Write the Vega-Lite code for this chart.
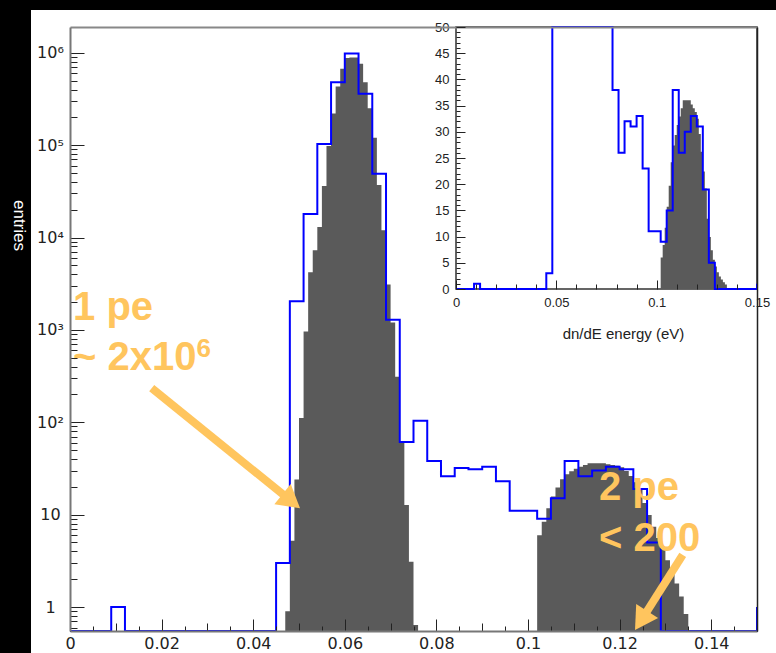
{
  "$schema": "https://vega.github.io/schema/vega-lite/v6.json",
  "width": 745,
  "height": 643,
  "autosize": "none",
  "padding": {"left": 31, "top": 10, "right": 0, "bottom": 0},
  "background": "#000000",
  "config": {
    "view": {"fill": "#ffffff", "stroke": null},
    "axis": {"grid": false, "labelColor": "#222222", "tickColor": "#222222", "domainColor": "#666666", "labelFont": "DejaVu Sans", "titleFont": "Liberation Sans", "labelFlush": false, "labelOverlap": false}
  },
  "datasets": {
    "blue": [
      {"e": 0, "n": 0}, {"e": 0.009, "n": 1}, {"e": 0.012, "n": 0}, {"e": 0.045, "n": 3},
      {"e": 0.048, "n": 2040}, {"e": 0.051, "n": 18000}, {"e": 0.054, "n": 103000}, {"e": 0.057, "n": 480000},
      {"e": 0.06, "n": 980000}, {"e": 0.063, "n": 360000}, {"e": 0.066, "n": 49000}, {"e": 0.069, "n": 1290},
      {"e": 0.072, "n": 61}, {"e": 0.075, "n": 104}, {"e": 0.078, "n": 38}, {"e": 0.081, "n": 26},
      {"e": 0.084, "n": 32}, {"e": 0.087, "n": 31}, {"e": 0.09, "n": 33}, {"e": 0.093, "n": 23},
      {"e": 0.096, "n": 11}, {"e": 0.099, "n": 11}, {"e": 0.102, "n": 9}, {"e": 0.105, "n": 15},
      {"e": 0.108, "n": 38}, {"e": 0.111, "n": 26}, {"e": 0.114, "n": 30}, {"e": 0.117, "n": 33},
      {"e": 0.12, "n": 31}, {"e": 0.123, "n": 19}, {"e": 0.126, "n": 5}, {"e": 0.129, "n": 0},
      {"e": 0.15, "n": 1}
    ],
    "pe1": [
      {"e": 0.047, "n": 0.9}, {"e": 0.048, "n": 5.2}, {"e": 0.049, "n": 24}, {"e": 0.05, "n": 111},
      {"e": 0.051, "n": 960}, {"e": 0.052, "n": 4200}, {"e": 0.053, "n": 7300}, {"e": 0.054, "n": 13000},
      {"e": 0.055, "n": 36000}, {"e": 0.056, "n": 98000}, {"e": 0.057, "n": 220000}, {"e": 0.058, "n": 430000},
      {"e": 0.059, "n": 670000}, {"e": 0.06, "n": 880000}, {"e": 0.061, "n": 890000}, {"e": 0.062, "n": 890000},
      {"e": 0.063, "n": 760000}, {"e": 0.064, "n": 480000}, {"e": 0.065, "n": 250000}, {"e": 0.066, "n": 120000},
      {"e": 0.067, "n": 37000}, {"e": 0.068, "n": 12000}, {"e": 0.069, "n": 3100}, {"e": 0.07, "n": 1200},
      {"e": 0.071, "n": 310}, {"e": 0.072, "n": 61}, {"e": 0.073, "n": 12.7}, {"e": 0.074, "n": 3.1},
      {"e": 0.075, "n": 0.64}, {"e": 0.076, "n": 0}
    ],
    "pe2": [
      {"e": 0.102, "n": 6}, {"e": 0.103, "n": 8.4}, {"e": 0.104, "n": 11.7}, {"e": 0.105, "n": 15.7},
      {"e": 0.106, "n": 19.7}, {"e": 0.107, "n": 24.2}, {"e": 0.108, "n": 27.4}, {"e": 0.109, "n": 29.4},
      {"e": 0.11, "n": 31.3}, {"e": 0.111, "n": 32.9}, {"e": 0.112, "n": 34.5}, {"e": 0.113, "n": 36},
      {"e": 0.114, "n": 36}, {"e": 0.115, "n": 36}, {"e": 0.116, "n": 36}, {"e": 0.117, "n": 35.2},
      {"e": 0.118, "n": 34.5}, {"e": 0.119, "n": 33.8}, {"e": 0.12, "n": 32.5}, {"e": 0.121, "n": 29.6},
      {"e": 0.122, "n": 26.2}, {"e": 0.123, "n": 22.4}, {"e": 0.124, "n": 19.2}, {"e": 0.125, "n": 13.4},
      {"e": 0.126, "n": 9.9}, {"e": 0.127, "n": 7.4}, {"e": 0.128, "n": 5.6}, {"e": 0.129, "n": 4.3},
      {"e": 0.13, "n": 3.2}, {"e": 0.131, "n": 2.4}, {"e": 0.132, "n": 1.8}, {"e": 0.133, "n": 1.3},
      {"e": 0.134, "n": 0.84}, {"e": 0.135, "n": 0}
    ]
  },
  "layer": [
    {
      "layer": [
        {
          "data": {"name": "pe1"},
          "mark": {"type": "area", "interpolate": "step-after", "color": "#5a5a5a"},
          "encoding": {
            "x": {"field": "e", "type": "quantitative", "scale": {"domain": [0, 0.15], "range": [39, 726], "nice": false, "zero": false},
              "axis": {"orient": "bottom", "offset": -22, "values": [0, 0.02, 0.04, 0.06, 0.08, 0.1, 0.12, 0.14], "format": ".3~g", "ticks": false, "domain": false, "labelFontSize": 16, "labelPadding": 4, "title": null, "zindex": 1}},
            "y": {"field": "n", "type": "quantitative", "scale": {"type": "log", "domain": [0.55, 1900000], "range": [621, 17], "clamp": true, "nice": false},
              "axis": {"orient": "left", "offset": -39, "values": [1, 10, 100, 1000, 10000, 100000, 1000000], "ticks": false, "domain": false,
                "labelExpr": "datum.value < 5 ? '1' : datum.value < 50 ? '10' : datum.value < 500 ? '10²' : datum.value < 5000 ? '10³' : datum.value < 50000 ? '10⁴' : datum.value < 500000 ? '10⁵' : '10⁶'",
                "labelAlign": "center", "labelBaseline": "middle", "labelPadding": 20, "labelFontSize": 16,
                "title": "entries", "titleColor": "#ffffff", "titleFontSize": 17, "titleFontWeight": "normal", "titleAngle": 90, "titleX": -52, "titleY": 215, "titleAlign": "center", "titleBaseline": "middle", "zindex": 1}},
            "y2": {"datum": 0.55}
          }
        },
        {
          "data": {"name": "pe2"},
          "mark": {"type": "area", "interpolate": "step-after", "color": "#5a5a5a"},
          "encoding": {
            "x": {"field": "e", "type": "quantitative",
              "axis": {"orient": "top", "offset": -17, "labels": false, "ticks": false, "domain": true, "domainColor": "#888888", "domainWidth": 2, "title": null, "zindex": 1}},
            "y": {"field": "n", "type": "quantitative",
              "axis": {"orient": "right", "offset": -19, "labels": false, "ticks": false, "domain": true, "domainColor": "#222222", "domainWidth": 1.5, "title": null, "zindex": 1}},
            "y2": {"datum": 0.55}
          }
        },
        {
          "data": {"name": "blue"},
          "mark": {"type": "line", "interpolate": "step-after", "color": "#0000ff", "strokeWidth": 2},
          "encoding": {
            "x": {"field": "e", "type": "quantitative",
              "axis": {"orient": "top", "offset": -621, "values": [0, 0.005, 0.01, 0.015, 0.02, 0.025, 0.03, 0.035, 0.04, 0.045, 0.05, 0.055, 0.06, 0.065, 0.07, 0.075, 0.08, 0.085, 0.09, 0.095, 0.1, 0.105, 0.11, 0.115, 0.12, 0.125, 0.13, 0.135, 0.14, 0.145, 0.15],
                "labels": false, "domain": true, "domainWidth": 2, "domainColor": "#777777",
                "tickSize": {"condition": [{"test": "abs(datum.value*50 - round(datum.value*50)) < 0.01", "value": 12}, {"test": "abs(datum.value*100 - round(datum.value*100)) < 0.01", "value": 8}], "value": 5},
                "title": null, "zindex": 1}},
            "y": {"field": "n", "type": "quantitative",
              "axis": {"orient": "right", "offset": -706, "values": [0.6, 0.7, 0.8, 0.9, 1, 2, 3, 4, 5, 6, 7, 8, 9, 10, 20, 30, 40, 50, 60, 70, 80, 90, 100, 200, 300, 400, 500, 600, 700, 800, 900, 1000, 2000, 3000, 4000, 5000, 6000, 7000, 8000, 9000, 10000, 20000, 30000, 40000, 50000, 60000, 70000, 80000, 90000, 100000, 200000, 300000, 400000, 500000, 600000, 700000, 800000, 900000, 1000000],
                "labels": false, "domain": true, "domainWidth": 2, "domainColor": "#777777",
                "tickSize": {"condition": {"test": "abs(log(datum.value)/LN10 - round(log(datum.value)/LN10)) < 0.001", "value": 14}, "value": 7},
                "title": null, "zindex": 1}}
          }
        },
        {
          "data": {"values": [{}]},
          "mark": {"type": "rule", "color": "#ffc55e", "strokeWidth": 8},
          "encoding": {
            "x": {"datum": 0.01784, "type": "quantitative", "axis": null}, "x2": {"datum": 0.04832},
            "y": {"datum": 234, "type": "quantitative", "axis": null}, "y2": {"datum": 14}
          }
        },
        {
          "data": {"values": [{}]},
          "mark": {"type": "point", "shape": "triangle-up", "filled": true, "size": 676, "angle": 129, "color": "#ffc55e", "opacity": 1},
          "encoding": {
            "x": {"datum": 0.04832, "type": "quantitative", "axis": null},
            "y": {"datum": 14, "type": "quantitative", "axis": null}
          }
        },
        {
          "data": {"values": [{}]},
          "mark": {"type": "rule", "color": "#ffc55e", "strokeWidth": 8},
          "encoding": {
            "x": {"datum": 0.13378, "type": "quantitative", "axis": null}, "x2": {"datum": 0.12469},
            "y": {"datum": 3.66, "type": "quantitative", "axis": null}, "y2": {"datum": 0.714}
          }
        },
        {
          "data": {"values": [{}]},
          "mark": {"type": "point", "shape": "triangle-up", "filled": true, "size": 676, "angle": 212.6, "color": "#ffc55e", "opacity": 1},
          "encoding": {
            "x": {"datum": 0.12469, "type": "quantitative", "axis": null},
            "y": {"datum": 0.714, "type": "quantitative", "axis": null}
          }
        },
        {
          "data": {"values": [{}]},
          "mark": {"type": "text", "text": "1 pe", "align": "left", "baseline": "alphabetic", "font": "Liberation Sans", "fontSize": 40, "fontWeight": "bold", "color": "#ffc55e"},
          "encoding": {
            "x": {"datum": 0.00066, "type": "quantitative", "axis": null},
            "y": {"datum": 1279, "type": "quantitative", "axis": null}
          }
        },
        {
          "data": {"values": [{}]},
          "mark": {"type": "text", "text": "~ 2x10", "align": "left", "baseline": "alphabetic", "font": "Liberation Sans", "fontSize": 40, "fontWeight": "bold", "color": "#ffc55e"},
          "encoding": {
            "x": {"datum": 0.00066, "type": "quantitative", "axis": null},
            "y": {"datum": 368, "type": "quantitative", "axis": null}
          }
        },
        {
          "data": {"values": [{}]},
          "mark": {"type": "text", "text": "6", "align": "left", "baseline": "alphabetic", "font": "Liberation Sans", "fontSize": 26, "fontWeight": "bold", "color": "#ffc55e"},
          "encoding": {
            "x": {"datum": 0.0276, "type": "quantitative", "axis": null},
            "y": {"datum": 512, "type": "quantitative", "axis": null}
          }
        },
        {
          "data": {"values": [{}]},
          "mark": {"type": "text", "text": "2 pe", "align": "left", "baseline": "alphabetic", "font": "Liberation Sans", "fontSize": 40, "fontWeight": "bold", "color": "#ffc55e"},
          "encoding": {
            "x": {"datum": 0.1155, "type": "quantitative", "axis": null},
            "y": {"datum": 14.4, "type": "quantitative", "axis": null}
          }
        },
        {
          "data": {"values": [{}]},
          "mark": {"type": "text", "text": "< 200", "align": "left", "baseline": "alphabetic", "font": "Liberation Sans", "fontSize": 40, "fontWeight": "bold", "color": "#ffc55e"},
          "encoding": {
            "x": {"datum": 0.1155, "type": "quantitative", "axis": null},
            "y": {"datum": 4.07, "type": "quantitative", "axis": null}
          }
        }
      ],
      "resolve": {"axis": {"x": "independent", "y": "independent"}}
    },
    {
      "layer": [
        {
          "data": {"values": [{}]},
          "mark": {"type": "rect", "fill": "#ffffff", "stroke": "#333333", "strokeWidth": 1.5},
          "encoding": {
            "x": {"datum": 0, "type": "quantitative", "scale": {"domain": [0, 0.15], "range": [425, 726], "nice": false, "zero": false},
              "axis": {"orient": "bottom", "offset": -364, "values": [0, 0.05, 0.1, 0.15], "format": ".3~g", "ticks": false, "domain": false, "labelFont": "Liberation Sans", "labelFontSize": 13, "labelPadding": 7,
                "title": "dn/dE energy (eV)", "titleFont": "Liberation Sans", "titleFontSize": 15, "titleFontWeight": "normal", "titleColor": "#222222", "titleX": 592, "titleY": 44, "titleBaseline": "middle"}},
            "x2": {"datum": 0.15},
            "y": {"datum": 0, "type": "quantitative", "scale": {"domain": [0, 50], "range": [279, 17], "clamp": true, "nice": false},
              "axis": {"orient": "left", "offset": -425, "values": [0, 5, 10, 15, 20, 25, 30, 35, 40, 45, 50], "ticks": false, "domain": false, "labelFont": "Liberation Sans", "labelFontSize": 13, "labelPadding": 7, "title": null}},
            "y2": {"datum": 50}
          }
        },
        {
          "data": {"name": "pe2"},
          "mark": {"type": "area", "interpolate": "step-after", "color": "#5a5a5a"},
          "encoding": {
            "x": {"field": "e", "type": "quantitative", "axis": null},
            "y": {"field": "n", "type": "quantitative", "axis": null},
            "y2": {"datum": 0}
          }
        },
        {
          "data": {"name": "blue"},
          "mark": {"type": "line", "interpolate": "step-after", "color": "#0000ff", "strokeWidth": 2},
          "encoding": {
            "x": {"field": "e", "type": "quantitative",
              "axis": {"orient": "top", "offset": -279, "values": [0, 0.01, 0.02, 0.03, 0.04, 0.05, 0.06, 0.07, 0.08, 0.09, 0.1, 0.11, 0.12, 0.13, 0.14, 0.15],
                "labels": false, "domain": false,
                "tickSize": {"condition": {"test": "abs(datum.value*20 - round(datum.value*20)) < 0.01", "value": 9}, "value": 5},
                "title": null, "zindex": 1}},
            "y": {"field": "n", "type": "quantitative",
              "axis": {"orient": "right", "offset": -320, "values": [0, 1, 2, 3, 4, 5, 6, 7, 8, 9, 10, 11, 12, 13, 14, 15, 16, 17, 18, 19, 20, 21, 22, 23, 24, 25, 26, 27, 28, 29, 30, 31, 32, 33, 34, 35, 36, 37, 38, 39, 40, 41, 42, 43, 44, 45, 46, 47, 48, 49, 50],
                "labels": false, "domain": false,
                "tickSize": {"condition": {"test": "datum.value % 5 == 0", "value": 9}, "value": 4},
                "title": null, "zindex": 1}}
          }
        }
      ],
      "resolve": {"axis": {"x": "independent", "y": "independent"}}
    }
  ],
  "resolve": {"scale": {"x": "independent", "y": "independent"}, "axis": {"x": "independent", "y": "independent"}}
}
